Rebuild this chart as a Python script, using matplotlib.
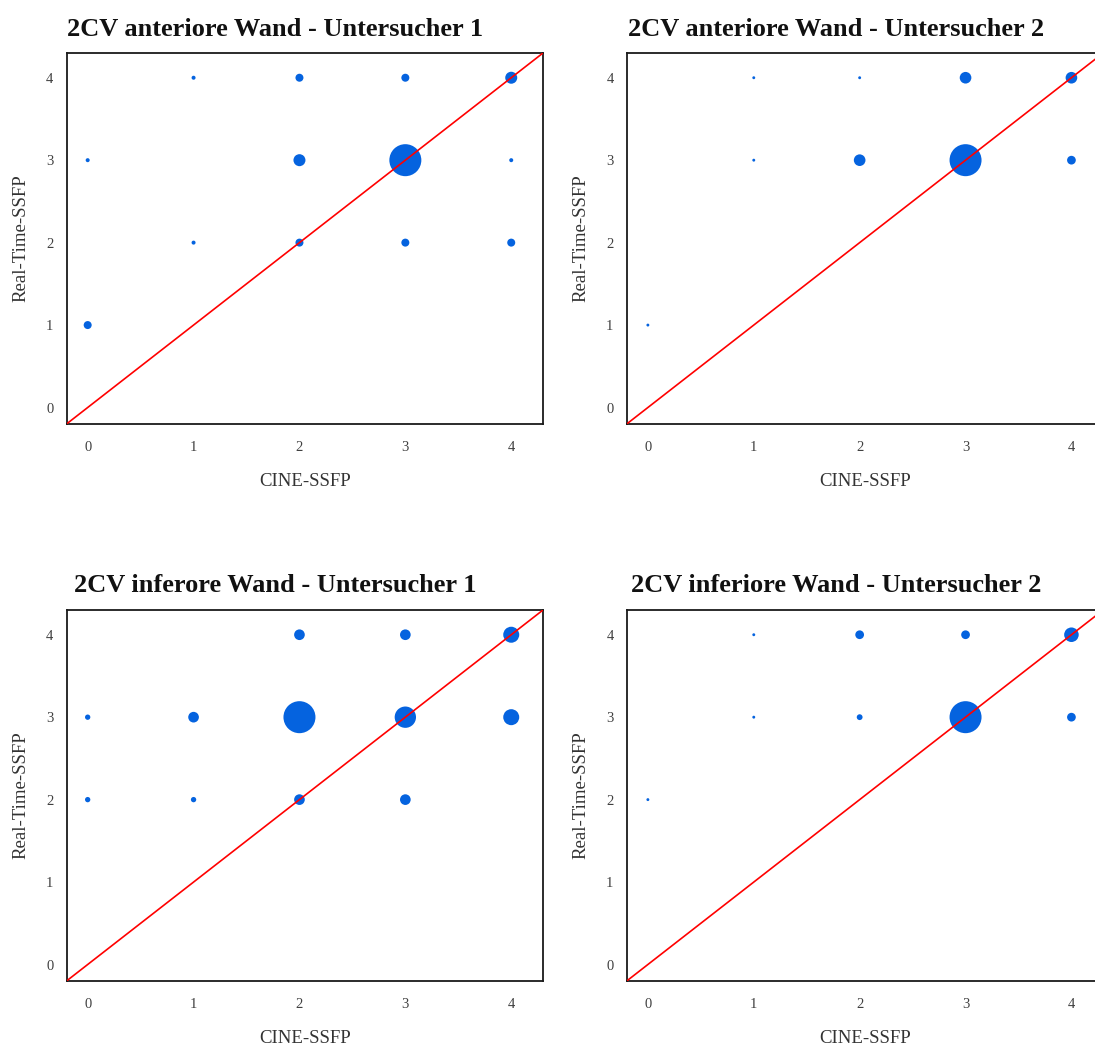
import numpy as np
import matplotlib
matplotlib.use("Agg")
import matplotlib.pyplot as plt

plt.rcParams['font.family'] = ['Liberation Serif', 'DejaVu Serif']

# Rating pairs (CINE-SSFP score, Real-Time-SSFP score) and how many segments fall on each pair
ant_u1_x = [0, 0, 1, 1, 2, 2, 2, 3, 3, 3, 4, 4, 4]
ant_u1_y = [1, 3, 4, 2, 4, 3, 2, 4, 3, 2, 4, 3, 2]
ant_u1_n = [2, 1, 1, 1, 2, 3, 2, 2, 8, 2, 3, 1, 2]

ant_u2_x = [0, 1, 1, 2, 2, 3, 3, 4, 4]
ant_u2_y = [1, 4, 3, 4, 3, 4, 3, 4, 3]
ant_u2_n = [1, 1, 1, 1, 4, 4, 11, 4, 3]

inf_u1_x = [0, 0, 1, 1, 2, 2, 2, 3, 3, 3, 4, 4]
inf_u1_y = [3, 2, 3, 2, 4, 3, 2, 4, 3, 2, 4, 3]
inf_u1_n = [1, 1, 2, 1, 2, 6, 2, 2, 4, 2, 3, 3]

inf_u2_x = [0, 1, 1, 2, 2, 3, 3, 4, 4]
inf_u2_y = [2, 4, 3, 4, 3, 4, 3, 4, 3]
inf_u2_n = [1, 1, 1, 3, 2, 3, 11, 5, 3]

titles = [
    "2CV anteriore Wand - Untersucher 1",
    "2CV anteriore Wand - Untersucher 2",
    "2CV inferore Wand - Untersucher 1",
    "2CV inferiore Wand - Untersucher 2",
]
tick_values = [0, 1, 2, 3, 4]
x_label = "CINE-SSFP"
y_label = "Real-Time-SSFP"

panels = [
    (ant_u1_x, ant_u1_y, ant_u1_n),
    (ant_u2_x, ant_u2_y, ant_u2_n),
    (inf_u1_x, inf_u1_y, inf_u1_n),
    (inf_u2_x, inf_u2_y, inf_u2_n),
]

W, H = 1095, 1048
fig = plt.figure(figsize=(W / 100, H / 100), dpi=100)

ax_w = (543 - 66.5) / W
ax_h = (424 - 53) / H
lefts = [66.5 / W, 626.7 / W]
bottoms = [1 - 424 / H, 1 - 981 / H]
title_x = [275 / W, 836 / W]
title_y = [1 - 36 / H, 1 - 592 / H]

lim = (-0.2, 4.3)
blue = '#0563DF'
max_diam_px = 32.0

for i, (xs, ys, ns) in enumerate(panels):
    r, c = divmod(i, 2)
    ax = fig.add_axes([lefts[c], bottoms[r], ax_w, ax_h])
    ns = np.asarray(ns, dtype=float)
    # bubble width proportional to count, largest bubble fixed in size
    diam_pt = max_diam_px * ns / ns.max() * 0.72
    ax.scatter(xs, ys, s=diam_pt ** 2, color=blue, linewidths=0, zorder=3)
    ax.plot(lim, lim, color='#FF0000', lw=1.2, zorder=4)
    ax.set_xlim(lim)
    ax.set_ylim(lim)
    ax.set_xticks(tick_values)
    ax.set_yticks(tick_values)
    ax.tick_params(length=0, labelsize=10.5, labelcolor='#404040')
    ax.tick_params(axis='y', pad=9.5)
    ax.tick_params(axis='x', pad=12.5)
    for sp in ax.spines.values():
        sp.set_linewidth(1.3)
        sp.set_color('#1a1a1a')
    ax.set_xlabel(x_label, fontsize=13.5, color='#333333')
    ax.set_ylabel(y_label, fontsize=13.5, color='#333333')
    ax.xaxis.set_label_coords(0.5, -0.133)
    ax.yaxis.set_label_coords(-0.078, 0.5)
    fig.text(title_x[c], title_y[r], titles[i], ha='center', va='baseline',
             fontsize=19, fontweight='bold', color='#111111')

fig.savefig("out.png", dpi=100)
